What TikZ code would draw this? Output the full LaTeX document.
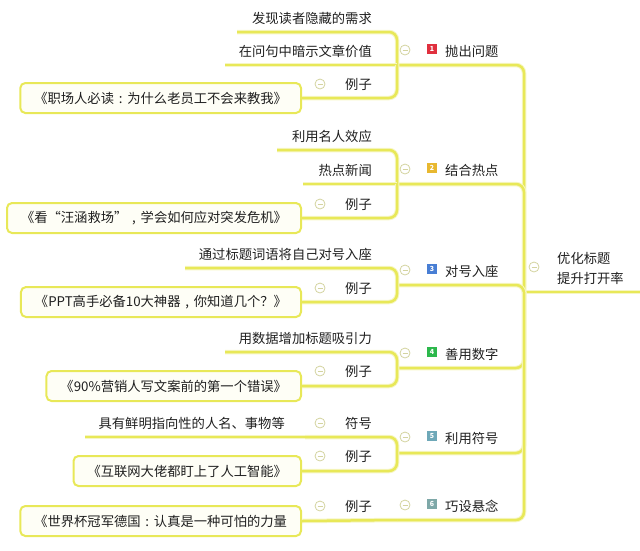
\documentclass[tikz,border=0pt]{standalone}
\usepackage{fontspec}
\setmainfont{Noto Sans CJK SC}
\definecolor{mapline}{RGB}{232,232,88}
\definecolor{mapglow}{RGB}{246,246,196}
\definecolor{boxfill}{RGB}{254,254,246}
\definecolor{knobline}{RGB}{212,212,160}
\definecolor{num1}{RGB}{224,48,62}
\definecolor{num2}{RGB}{232,184,48}
\definecolor{num3}{RGB}{72,126,212}
\definecolor{num4}{RGB}{44,184,76}
\definecolor{num5}{RGB}{110,168,184}
\definecolor{num6}{RGB}{126,168,168}
\newcommand{\cpunct}[1]{\makebox[1em]{#1}}
\tikzset{
  topic/.style={inner sep=0pt, text=black!88, font=\fontsize{13.3}{15}\selectfont},
  leaf/.style={topic, anchor=east},
  sample/.style={draw=mapline, line width=2pt, fill=boxfill, rounded corners=5pt, anchor=east,
    inner xsep=14pt, minimum height=30pt, text=black!88, font=\fontsize{13.3}{15}\selectfont},
  link/.style={draw=mapline, line width=2.5pt, rounded corners=8pt, preaction={draw=mapglow, line width=4.5pt}},
  knob/.style={circle, draw=knobline, fill=white, line width=0.8pt, minimum size=10pt, inner sep=0pt,
    path picture={\draw[knobline, line width=0.8pt] ([xshift=-2.5pt]path picture bounding box.center) -- ([xshift=2.5pt]path picture bounding box.center);}},
  tag/.style={fill=#1, text=white, minimum size=10.5pt, inner sep=0pt, font=\fontsize{7}{7}\selectfont\bfseries},
}
\begin{document}
\begin{tikzpicture}[x=1pt,y=-1pt]
	\useasboundingbox (0,0) rectangle (640,550);
	% root
	\node[topic, anchor=west, align=left, font=\fontsize{13.3}{20}\selectfont] (root) at (557,268) {优化标题\\提升打开率};
	\node[knob] (kr) at (534,267) {};
	\coordinate (r0) at (524,292);
	\coordinate (rEnd) at (640,292);
	% 1
	\node[tag=num1] (n1) at (432,49) {1};
	\node[topic, anchor=west] (b1) at (445,51) {抛出问题};
	\node[knob] (k1) at (405,50) {};
	\coordinate (j1) at (397,65);
	\node[leaf] (b1a) at (372,18) {发现读者隐藏的需求};
	\coordinate (u1a) at (237,32);
	\node[leaf] (b1b) at (372,51) {在问句中暗示文章价值};
	\coordinate (u1b) at (225,65);
	\node[leaf] (b1c) at (372,84) {例子};
	\node[knob] (k1c) at (320,84) {};
	\node[sample] (s1) at (302,98) {《职场人必读\cpunct{:}为什么老员工不会来教我》};
	% 2
	\node[tag=num2] (n2) at (432,168) {2};
	\node[topic, anchor=west] (b2) at (445,170) {结合热点};
	\node[knob] (k2) at (405,169) {};
	\coordinate (j2) at (397,184);
	\node[leaf] (b2a) at (372,136) {利用名人效应};
	\coordinate (u2a) at (277,150);
	\node[leaf] (b2b) at (372,170) {热点新闻};
	\coordinate (u2b) at (303,184);
	\node[leaf] (b2c) at (372,204) {例子};
	\node[knob] (k2c) at (320,204) {};
	\node[sample] (s2) at (302,218) {《看“汪涵救场”\cpunct{,}学会如何应对突发危机》};
	% 3
	\node[tag=num3] (n3) at (432,269) {3};
	\node[topic, anchor=west] (b3) at (445,271) {对号入座};
	\node[knob] (k3) at (405,270) {};
	\coordinate (j3) at (397,285);
	\node[leaf] (b3a) at (372,254) {通过标题词语将自己对号入座};
	\coordinate (u3a) at (185,268);
	\node[leaf] (b3b) at (372,288) {例子};
	\node[knob] (k3b) at (320,288) {};
	\node[sample] (s3) at (302,302) {《PPT高手必备10大神器\cpunct{,}你知道几个？》};
	% 4
	\node[tag=num4] (n4) at (432,352) {4};
	\node[topic, anchor=west] (b4) at (445,354) {善用数字};
	\node[knob] (k4) at (405,353) {};
	\coordinate (j4) at (397,368);
	\node[leaf] (b4a) at (372,338) {用数据增加标题吸引力};
	\coordinate (u4a) at (225,352);
	\node[leaf] (b4b) at (372,371) {例子};
	\node[knob] (k4b) at (320,371) {};
	\node[sample] (s4) at (302,386) {《90\%营销人写文案前的第一个错误》};
	% 5
	\node[tag=num5] (n5) at (432,436) {5};
	\node[topic, anchor=west] (b5) at (445,438) {利用符号};
	\node[knob] (k5) at (405,437) {};
	\coordinate (j5) at (397,453);
	\node[leaf] (b5a) at (372,423) {符号};
	\node[knob] (k5a) at (320,423) {};
	\coordinate (u5x) at (305,437);
	\node[leaf] (b5d) at (285,423) {具有鲜明指向性的人名、事物等};
	\coordinate (u5a) at (85,437);
	\node[leaf] (b5b) at (372,456) {例子};
	\node[knob] (k5b) at (320,456) {};
	\node[sample] (s5) at (302,471) {《互联网大佬都盯上了人工智能》};
	% 6
	\node[tag=num6] (n6) at (432,504) {6};
	\node[topic, anchor=west] (b6) at (445,506) {巧设悬念};
	\node[knob] (k6) at (405,505) {};
	\coordinate (j6) at (397,520);
	\node[leaf] (b6a) at (372,506) {例子};
	\node[knob] (k6a) at (320,506) {};
	\node[sample] (s6) at (302,521) {《世界杯冠军德国\cpunct{:}认真是一种可怕的力量};
	% trunk
	\draw[link] (r0) -- (rEnd);
	\draw[link] (r0) |- (j1);
	\draw[link] (r0) |- (j2);
	\draw[link] (r0) |- (j3);
	\draw[link] (r0) |- (j4);
	\draw[link] (r0) |- (j5);
	\draw[link] (r0) |- (j6);
	% branches
	\draw[link] (j1) |- (u1a);
	\draw[link] (j1) -- (u1b);
	\draw[link] (j1) |- (s1.east);
	\draw[link] (j2) |- (u2a);
	\draw[link] (j2) -- (u2b);
	\draw[link] (j2) |- (s2.east);
	\draw[link] (j3) |- (u3a);
	\draw[link] (j3) |- (s3.east);
	\draw[link] (j4) |- (u4a);
	\draw[link] (j4) |- (s4.east);
	\draw[link] (j5) |- (u5x);
	\draw[link] (u5x) -- (u5a);
	\draw[link] (j5) |- (s5.east);
	\draw[link] (j6) -- (s6.east);
\end{tikzpicture}
\end{document}
